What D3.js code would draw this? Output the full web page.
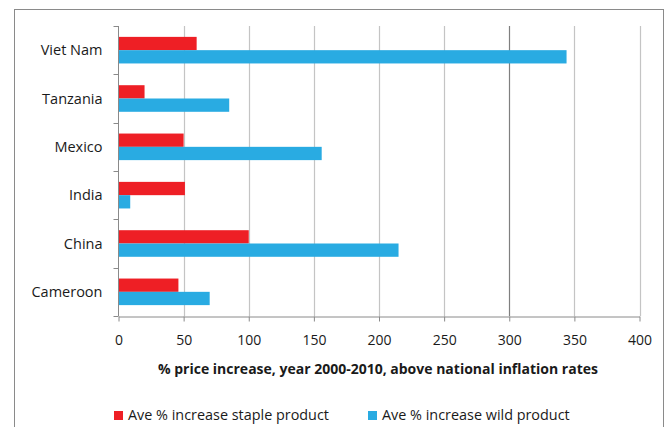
<!DOCTYPE html>
<html>
<head>
<meta charset="utf-8">
<script src="https://cdn.jsdelivr.net/npm/d3@7"></script>
<style>
  body { margin: 0; background: #fff; }
  text { font-family: "Open Sans", sans-serif; fill: #1a1a1a; }
</style>
</head>
<body>
<svg width="665" height="427"></svg>
<script>
// countries as shown top to bottom
var countries = ["Viet Nam", "Tanzania", "Mexico", "India", "China", "Cameroon"];
var staple = [60, 20, 50, 51, 100, 46];
var wild = [344, 85, 156, 9, 215, 70];
var seriesNames = ["Ave % increase staple product", "Ave % increase wild product"];
var seriesColors = ["#ee1f25", "#29abe2"];
var xTicks = [0, 50, 100, 150, 200, 250, 300, 350, 400];

var svg = d3.select("svg");

// outer chart frame
svg.append("rect")
    .attr("x", 14.5).attr("y", 9.5)
    .attr("width", 649).attr("height", 440)
    .attr("fill", "none")
    .attr("stroke", "#8a8a8a");

var pLeft = 118.5, pRight = 639.5, pTop = 26, pBottom = 316;

var x = d3.scaleLinear().domain([0, 400]).range([pLeft, pRight]);
var y = d3.scaleBand().domain(countries).range([pTop, pBottom]);
var step = y.step();
var y1 = d3.scaleBand().domain([0, 1]).range([step * 0.225, step * 0.775]);

// gridlines
svg.append("g")
    .selectAll("line")
    .data(xTicks.slice(1))
    .enter().append("line")
    .attr("x1", function(d) { return Math.round(x(d)) + 0.5; })
    .attr("x2", function(d) { return Math.round(x(d)) + 0.5; })
    .attr("y1", pTop).attr("y2", pBottom)
    .attr("stroke", function(d) { return d == 300 ? "#7f7f7f" : "#c4c4c4"; })
    .attr("stroke-width", 1.2);

// bars
var rows = countries.map(function(c, i) { return {name: c, vals: [staple[i], wild[i]]}; });

var group = svg.append("g")
    .selectAll("g")
    .data(rows)
    .enter().append("g")
    .attr("transform", function(d) { return "translate(0," + y(d.name) + ")"; });

group.selectAll("rect")
    .data(function(d) { return d.vals; })
    .enter().append("rect")
    .attr("x", x(0))
    .attr("y", function(d, i) { return y1(i); })
    .attr("height", y1.bandwidth())
    .attr("width", function(d) { return x(d) - x(0); })
    .attr("fill", function(d, i) { return seriesColors[i]; });

// x axis
var xAxis = svg.append("g")
    .attr("transform", "translate(0," + (pBottom + 0.5) + ")")
    .call(d3.axisBottom(x).tickValues(xTicks).tickSize(5).tickPadding(14).tickSizeOuter(0));
xAxis.select(".domain").attr("stroke", "#8a8a8a");
xAxis.selectAll(".tick line").attr("stroke", "#8a8a8a");
xAxis.selectAll(".tick text")
    .style("font-family", "Open Sans")
    .style("font-size", "14px")
    .attr("fill", "#1a1a1a");

// y axis with ticks between categories
var yAxis = svg.append("g").attr("transform", "translate(" + pLeft + ",0)");
yAxis.append("line")
    .attr("x1", 0).attr("x2", 0)
    .attr("y1", pTop).attr("y2", pBottom)
    .attr("stroke", "#8a8a8a");
yAxis.selectAll(".yt")
    .data(d3.range(countries.length + 1))
    .enter().append("line")
    .attr("x1", -5).attr("x2", 0)
    .attr("y1", function(i) { return Math.round(pTop + i * step) + 0.5; })
    .attr("y2", function(i) { return Math.round(pTop + i * step) + 0.5; })
    .attr("stroke", "#8a8a8a");
yAxis.selectAll(".ylab")
    .data(countries)
    .enter().append("text")
    .attr("x", -16)
    .attr("y", function(d) { return y(d) + step / 2; })
    .attr("dy", "0.35em")
    .attr("text-anchor", "end")
    .style("font-size", "14.5px")
    .text(function(d) { return d; });

// axis title
svg.append("text")
    .attr("x", 378).attr("y", 374)
    .attr("text-anchor", "middle")
    .style("font-size", "14px")
    .style("font-weight", "bold")
    .text("% price increase, year 2000-2010, above national inflation rates");

// legend
var legX = [114, 368];
var leg = svg.append("g")
    .selectAll("g")
    .data(seriesNames)
    .enter().append("g")
    .attr("transform", function(d, i) { return "translate(" + legX[i] + ",411)"; });
leg.append("rect")
    .attr("width", 9).attr("height", 9)
    .attr("fill", function(d, i) { return seriesColors[i]; });
leg.append("text")
    .attr("x", 14).attr("y", 9)
    .style("font-size", "14.4px")
    .text(function(d) { return d; });
</script>
</body>
</html>
